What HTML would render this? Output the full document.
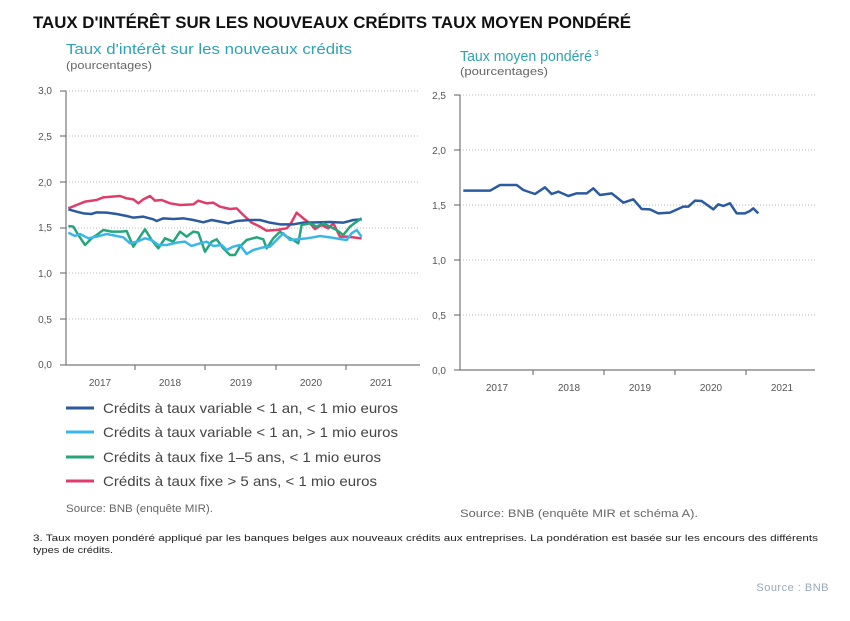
<!DOCTYPE html>
<html><head><meta charset="utf-8"><style>
body{margin:0;background:#fff;width:850px;height:616px;overflow:hidden;font-family:"Liberation Sans",sans-serif}
svg text{font-family:"Liberation Sans",sans-serif}
</style></head><body>
<svg width="850" height="616" viewBox="0 0 850 616" xmlns="http://www.w3.org/2000/svg">
<text x="33" y="28" font-size="16.5" font-weight="bold" fill="#111" textLength="598" lengthAdjust="spacingAndGlyphs">TAUX D'INTÉRÊT SUR LES NOUVEAUX CRÉDITS TAUX MOYEN PONDÉRÉ</text>
<text x="66" y="54" font-size="15" fill="#2ea3b6" textLength="286" lengthAdjust="spacingAndGlyphs">Taux d'intérêt sur les nouveaux crédits</text>
<text x="66" y="69" font-size="11" fill="#666" textLength="86" lengthAdjust="spacingAndGlyphs">(pourcentages)</text>
<text x="460" y="61" font-size="15" fill="#2ea3b6"><tspan textLength="132" lengthAdjust="spacingAndGlyphs">Taux moyen pondéré</tspan><tspan font-size="8" dy="-5"> 3</tspan></text>
<text x="460" y="75" font-size="11" fill="#666" textLength="88" lengthAdjust="spacingAndGlyphs">(pourcentages)</text>
<g stroke="#bbb" stroke-dasharray="1,2" stroke-width="1">
<line x1="66" y1="91" x2="420" y2="91"/><line x1="66" y1="136" x2="420" y2="136"/><line x1="66" y1="182" x2="420" y2="182"/><line x1="66" y1="228" x2="420" y2="228"/><line x1="66" y1="273" x2="420" y2="273"/><line x1="66" y1="319" x2="420" y2="319"/>
</g>
<g stroke="#777" stroke-width="1.2" fill="none">
<line x1="66" y1="91" x2="66" y2="365"/><line x1="66" y1="365" x2="420" y2="365"/>
<line x1="60" y1="91" x2="66" y2="91"/><line x1="60" y1="136" x2="66" y2="136"/><line x1="60" y1="182" x2="66" y2="182"/><line x1="60" y1="228" x2="66" y2="228"/><line x1="60" y1="273" x2="66" y2="273"/><line x1="60" y1="319" x2="66" y2="319"/><line x1="60" y1="365" x2="66" y2="365"/>
<line x1="135" y1="365" x2="135" y2="370"/><line x1="205" y1="365" x2="205" y2="370"/><line x1="276" y1="365" x2="276" y2="370"/><line x1="346" y1="365" x2="346" y2="370"/>
</g>
<g font-size="10" fill="#555" text-anchor="end">
<text x="52" y="94">3,0</text><text x="52" y="140">2,5</text><text x="52" y="186">2,0</text><text x="52" y="231">1,5</text><text x="52" y="277">1,0</text><text x="52" y="323">0,5</text><text x="52" y="368">0,0</text>
</g>
<g font-size="10" fill="#555" text-anchor="middle">
<text x="100" y="386">2017</text><text x="170" y="386">2018</text><text x="241" y="386">2019</text><text x="311" y="386">2020</text><text x="381" y="386">2021</text>
</g>
<g transform="translate(30,160) scale(0.3333)" fill="none" stroke-linejoin="round">
<polyline vector-effect="non-scaling-stroke" stroke-width="2.5" stroke="#e03c6a" points="115,145 140,135 165,125 200,120 220,112 270,108 290,115 310,118 325,130 340,118 360,108 375,122 395,120 420,130 450,135 490,133 505,122 530,130 550,128 570,140 600,147 620,145 640,165 665,188 690,200 710,212 740,210 770,205 780,195 800,158 820,175 840,190 855,207 875,195 895,205 910,190 930,230 950,230 970,232 995,235"/>
<polyline vector-effect="non-scaling-stroke" stroke-width="2.5" stroke="#2a5aa0" points="115,148 140,155 160,160 185,162 200,157 230,158 260,162 290,168 310,173 340,170 370,178 380,183 400,175 430,177 460,175 490,180 520,187 545,180 570,185 595,190 620,183 660,180 690,180 720,188 750,193 790,193 820,188 860,187 900,186 940,188 970,180 995,178"/>
<polyline vector-effect="non-scaling-stroke" stroke-width="2.5" stroke="#25a67a" points="115,198 130,200 145,225 165,255 185,235 200,225 220,210 245,215 275,215 290,213 310,260 330,230 345,208 365,240 385,265 405,235 430,245 450,215 470,230 490,215 505,218 525,275 545,245 560,238 580,265 600,285 615,285 630,260 650,240 680,232 700,238 710,265 730,235 750,215 770,230 790,240 805,250 815,195 840,190 860,200 880,190 900,200 920,210 940,225 960,200 980,185 995,175"/>
<polyline vector-effect="non-scaling-stroke" stroke-width="2.5" stroke="#3bb6e8" points="115,218 135,228 150,222 175,235 200,230 230,222 260,228 280,232 300,250 320,245 345,235 365,240 385,255 410,255 440,248 465,245 485,258 510,250 530,245 550,258 575,255 590,270 610,260 630,255 650,282 670,270 700,262 720,260 740,240 760,220 780,240 800,238 830,235 850,232 870,228 900,232 930,237 950,240 965,220 980,210 995,230"/>
</g>
<g stroke-width="3">
<line x1="66" y1="408" x2="94" y2="408" stroke="#2a5aa0"/>
<line x1="66" y1="432" x2="94" y2="432" stroke="#3bb6e8"/>
<line x1="66" y1="457" x2="94" y2="457" stroke="#25a67a"/>
<line x1="66" y1="481" x2="94" y2="481" stroke="#e03c6a"/>
</g>
<g font-size="14" fill="#444" lengthAdjust="spacingAndGlyphs">
<text x="103" y="413" textLength="295" lengthAdjust="spacingAndGlyphs">Crédits à taux variable &lt; 1 an, &lt; 1 mio euros</text>
<text x="103" y="437" textLength="295" lengthAdjust="spacingAndGlyphs">Crédits à taux variable &lt; 1 an, &gt; 1 mio euros</text>
<text x="103" y="462" textLength="278" lengthAdjust="spacingAndGlyphs">Crédits à taux fixe 1–5 ans, &lt; 1 mio euros</text>
<text x="103" y="486" textLength="274" lengthAdjust="spacingAndGlyphs">Crédits à taux fixe &gt; 5 ans, &lt; 1 mio euros</text>
</g>
<text x="66" y="512" font-size="11" fill="#666" textLength="147" lengthAdjust="spacingAndGlyphs">Source: BNB (enquête MIR).</text>
<g stroke="#bbb" stroke-dasharray="1,2" stroke-width="1">
<line x1="460" y1="95" x2="815" y2="95"/><line x1="460" y1="150" x2="815" y2="150"/><line x1="460" y1="205" x2="815" y2="205"/><line x1="460" y1="260" x2="815" y2="260"/><line x1="460" y1="315" x2="815" y2="315"/>
</g>
<g stroke="#777" stroke-width="1.2" fill="none">
<line x1="460" y1="95" x2="460" y2="370"/><line x1="460" y1="370" x2="815" y2="370"/>
<line x1="454" y1="95" x2="460" y2="95"/><line x1="454" y1="150" x2="460" y2="150"/><line x1="454" y1="205" x2="460" y2="205"/><line x1="454" y1="260" x2="460" y2="260"/><line x1="454" y1="315" x2="460" y2="315"/><line x1="454" y1="370" x2="460" y2="370"/>
<line x1="533" y1="370" x2="533" y2="375"/><line x1="604" y1="370" x2="604" y2="375"/><line x1="675" y1="370" x2="675" y2="375"/><line x1="746" y1="370" x2="746" y2="375"/>
</g>
<g font-size="10" fill="#555" text-anchor="end">
<text x="446" y="99">2,5</text><text x="446" y="154">2,0</text><text x="446" y="209">1,5</text><text x="446" y="264">1,0</text><text x="446" y="319">0,5</text><text x="446" y="374">0,0</text>
</g>
<g font-size="10" fill="#555" text-anchor="middle">
<text x="497" y="391">2017</text><text x="569" y="391">2018</text><text x="640" y="391">2019</text><text x="711" y="391">2020</text><text x="782" y="391">2021</text>
</g>
<g transform="translate(420,170) scale(0.3333)" fill="none">
<polyline vector-effect="non-scaling-stroke" stroke-width="2.5" stroke="#2a5aa0" stroke-linejoin="round" points="130,62 210,62 240,45 290,45 310,60 345,72 375,52 395,72 415,65 445,78 470,70 500,70 520,55 540,75 575,70 610,98 640,88 665,117 690,118 715,130 750,128 790,110 805,110 825,92 845,93 880,118 895,103 910,108 930,100 950,130 975,130 990,123 1000,115 1015,130"/>
</g>
<text x="460" y="517" font-size="11" fill="#666" textLength="238" lengthAdjust="spacingAndGlyphs">Source: BNB (enquête MIR et schéma A).</text>
<text x="33" y="541" font-size="9.5" fill="#222" textLength="785" lengthAdjust="spacingAndGlyphs">3. Taux moyen pondéré appliqué par les banques belges aux nouveaux crédits aux entreprises. La pondération est basée sur les encours des différents</text>
<text x="33" y="553" font-size="9.5" fill="#222" textLength="80" lengthAdjust="spacingAndGlyphs">types de crédits.</text>
<text x="829" y="591" font-size="11" fill="#9aa8b8" text-anchor="end" letter-spacing="0.5">Source : BNB</text>
</svg>
</body></html>
